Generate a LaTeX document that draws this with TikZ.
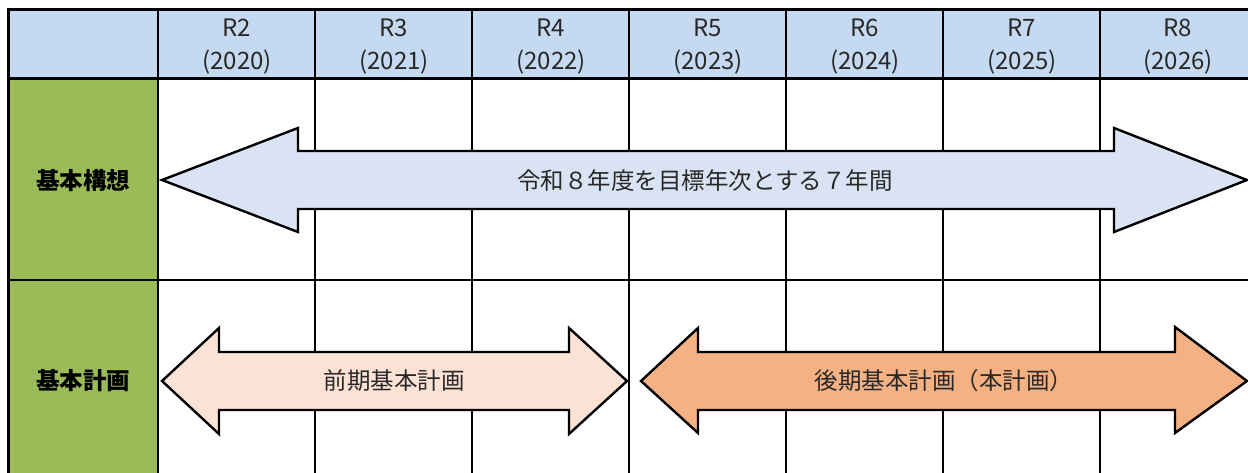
\documentclass[tikz,border=0pt]{standalone}
\usepackage{fontspec}
\setmainfont{Noto Sans CJK JP}
\definecolor{hdrblue}{RGB}{197,217,241}
\definecolor{rowgreen}{RGB}{155,187,89}
\definecolor{arrblue}{RGB}{218,227,243}
\definecolor{arrpeach}{RGB}{251,226,213}
\definecolor{arrorange}{RGB}{244,177,131}
\definecolor{txtgray}{RGB}{40,40,40}
\tikzset{
  gridline/.style={line width=2pt,black},
  arrowshape/.style={line width=2.4pt,draw=black,line join=miter},
  hdrtext/.style={align=center,font=\fontsize{24}{33}\selectfont,text=txtgray,inner sep=0pt},
  rowlabel/.style={font=\fontsize{23.5}{26}\selectfont\bfseries,text=black,inner sep=0pt},
  arrtext/.style={font=\fontsize{23.5}{26}\selectfont,text=txtgray,inner sep=0pt}
}
\begin{document}
\begin{tikzpicture}[x=1pt,y=-1pt]
\useasboundingbox (0,0) rectangle (1248,473);
\clip (0,0) rectangle (1248,473);
% fills
\fill[hdrblue] (8,10) rectangle (1260,79);
\fill[rowgreen] (8,79) rectangle (158,480);
% grid
\foreach \x in {158,315,472,629,786,943,1100} {
  \draw[gridline] (\x,10) -- (\x,480);
}
\draw[gridline] (158,280) -- (1260,280);
\draw[line width=3pt] (8,480) -- (8,10) -- (1260,10);
\draw[line width=3pt] (8,79) -- (1260,79);
\draw[gridline] (8,280) -- (158,280);
% header texts
\node[hdrtext] (h2) at (237,47) {R2\\(2020)};
\node[hdrtext] (h3) at (394,47) {R3\\(2021)};
\node[hdrtext] (h4) at (551,47) {R4\\(2022)};
\node[hdrtext] (h5) at (708,47) {R5\\(2023)};
\node[hdrtext] (h6) at (865,47) {R6\\(2024)};
\node[hdrtext] (h7) at (1022,47) {R7\\(2025)};
\node[hdrtext] (h8) at (1178,47) {R8\\(2026)};
% row labels
\node[rowlabel] (kousou) at (83,181) {基本構想};
\node[rowlabel] (keikaku) at (83,381) {基本計画};
% arrow 1
\draw[arrowshape,fill=arrblue]
  (162,180) -- (298,128) -- (298,151) -- (1114,151) -- (1114,128) -- (1247,180)
  -- (1114,232) -- (1114,209) -- (298,209) -- (298,232) -- cycle;
\node[arrtext] (a1) at (705,181) {令和８年度を目標年次とする７年間};
% arrow 2
\draw[arrowshape,fill=arrpeach]
  (162,381) -- (219,328) -- (219,352) -- (569,352) -- (569,328) -- (627,381)
  -- (569,434) -- (569,410) -- (219,410) -- (219,434) -- cycle;
\node[arrtext] (a2) at (394,381) {前期基本計画};
% arrow 3
\draw[arrowshape,fill=arrorange]
  (641,381) -- (698,328) -- (698,352) -- (1175,352) -- (1175,327) -- (1247,381)
  -- (1175,433) -- (1175,410) -- (698,410) -- (698,433) -- cycle;
\node[arrtext] (a3) at (944,381) {後期基本計画（本計画）};
\end{tikzpicture}
\end{document}
